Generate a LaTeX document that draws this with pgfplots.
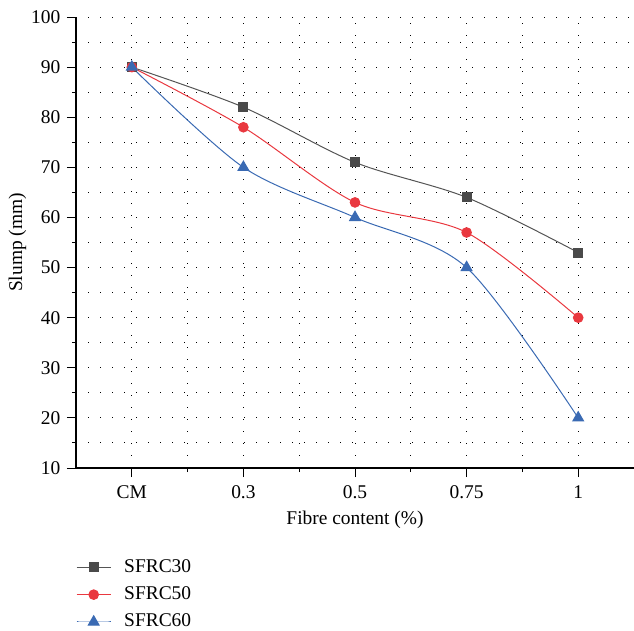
\documentclass[border=0pt]{standalone}
\usepackage{pgfplots}
\pgfplotsset{compat=1.18}
\usepackage{fontspec}
\setmainfont{Liberation Serif}
\definecolor{cgray}{HTML}{4A4A4A}
\definecolor{cgrayl}{HTML}{555555}
\definecolor{cred}{HTML}{E9383F}
\definecolor{cblue}{HTML}{3A6AB3}
\begin{document}
\fontsize{19.5}{23}\selectfont
\begin{tikzpicture}
\path[use as bounding box] (0,0) rectangle (634bp,631bp);
\begin{axis}[
  at={(76bp,163bp)}, anchor=south west,
  scale only axis, width=558bp, height=451bp,
  xmin=-0.5, xmax=4.5, ymin=10, ymax=100,
  axis x line*=bottom, axis y line*=left,
  axis line style={line width=1.2bp, black},
  xtick={0,1,2,3,4}, xticklabels={CM,0.3,0.5,0.75,1},
  ytick={10,20,...,100},
  minor x tick num=1, minor y tick num=1,
  tick align=outside,
  major tick length=9bp, minor tick length=4bp,
  tick style={line width=1bp, black},
  grid=both,
  major grid style={black, line width=1bp, dash pattern=on 1bp off 11bp},
  minor grid style={black, line width=1bp, dash pattern=on 1bp off 11bp},
  /pgf/number format/assume math mode=true,
  tick label style={font=\fontsize{19.5}{23}\selectfont},
  xticklabel style={yshift=-2bp},
  label style={font=\fontsize{19.5}{23}\selectfont},
  xlabel={Fibre content (\%)},
  ylabel={Slump (mm)},
  every axis x label/.style={at={(axis description cs:0.5,-0.1153)}, anchor=center},
  every axis y label/.style={at={(axis description cs:-0.1048,0.5)}, rotate=90, anchor=center},
  legend cell align=left,
  legend style={draw=none, fill=none, at={(axis description cs:0,-0.2)}, anchor=north west,
    font=\fontsize{19.5}{23}\selectfont, row sep=9.5bp, inner sep=0pt,
    nodes={inner sep=1bp},
    /tikz/every odd column/.append style={column sep=12bp}},
  legend image code/.code={\draw[mark repeat=2,mark phase=2] plot coordinates {(0bp,0bp)(17bp,0bp)(34bp,0bp)};},
]
\addplot[smooth, color=cgrayl, line width=1bp, mark=square*, mark size=4.5bp, mark options={fill=cgray, draw=cgray, solid}]
  coordinates {(0,90) (1,82) (2,71) (3,64) (4,53)};
\addlegendentry{SFRC30}
\addplot[smooth, color=cred, line width=1bp, mark=*, mark size=4.8bp, mark options={fill=cred, draw=cred, solid}]
  coordinates {(0,90) (1,78) (2,63) (3,57) (4,40)};
\addlegendentry{SFRC50}
\addplot[smooth, color=cblue, line width=1bp, mark=triangle*, mark size=6.2bp, mark options={fill=cblue, draw=cblue, solid}]
  coordinates {(0,90) (1,70) (2,60) (3,50) (4,20)};
\addlegendentry{SFRC60}
\end{axis}
\end{tikzpicture}
\end{document}
